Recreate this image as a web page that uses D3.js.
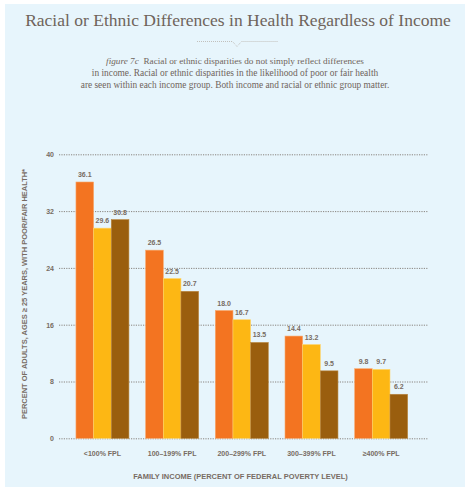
<!DOCTYPE html>
<html><head><meta charset="utf-8">
<script src="https://cdn.jsdelivr.net/npm/d3@7"></script>
<style>html,body{margin:0;padding:0;background:#fff;}svg{display:block;}</style>
</head><body>
<script>
const categories = ["<100% FPL", "100–199% FPL", "200–299% FPL", "300–399% FPL", "≥400% FPL"];
const seriesNames = ["Group A", "Group B", "Group C"];
const seriesA = [36.1, 26.5, 18.0, 14.4, 9.8];
const seriesB = [29.6, 22.5, 16.7, 13.2, 9.7];
const seriesC = [30.8, 20.7, 13.5, 9.5, 6.2];
const yTicks = [0, 8, 16, 24, 32, 40];
const colors = ["#f37421", "#fdb714", "#9a5e0e"];
const strokes = ["#f9a86c", "#fed56c", "#b98640"];
const title = "Racial or Ethnic Differences in Health Regardless of Income";
const captionLines = [
  ["figure 7c", "\u00a0 Racial or ethnic disparities do not simply reflect differences"],
  ["", "in income. Racial or ethnic disparities in the likelihood of poor or fair health"],
  ["", "are seen within each income group. Both income and racial or ethnic group matter."]
];
const yTitle = "PERCENT OF ADULTS, AGES ≥ 25 YEARS, WITH POOR/FAIR HEALTH*";
const xTitle = "FAMILY INCOME (PERCENT OF FEDERAL POVERTY LEVEL)";

const W = 465, H = 487;
const txt = "#776c63";
const SERIF = "'Liberation Serif', 'DejaVu Serif', serif";
const SANS = "'Liberation Sans', Arial, sans-serif";
const svg = d3.select("body").append("svg").attr("width", W).attr("height", H);
svg.append("rect").attr("x", 5).attr("y", 4).attr("width", W - 5).attr("height", H - 4).attr("fill", "#e7f5fc");

function fit(sel, target, base) {
  sel.attr("font-size", base);
  const len = sel.node().getComputedTextLength();
  sel.attr("font-size", (base * target / len).toFixed(2));
}

// Title
const tt = svg.append("text").attr("x", 238).attr("y", 26).attr("text-anchor", "middle")
  .style("font-family", SERIF).attr("fill", "#6f645b").text(title);
fit(tt, 426, 18);

// Ornament
const orn = d3.path();
orn.moveTo(197, 41.5); orn.lineTo(232.5, 41.5); orn.lineTo(237, 46.5); orn.lineTo(241.5, 41.5); orn.lineTo(278, 41.5);
svg.append("path").attr("d", orn.toString()).attr("fill", "none").attr("stroke", "#b9b2ab")
  .attr("stroke-width", 0.8).attr("stroke-dasharray", "1,1");

// Caption
const capW = [258, 287, 309];
captionLines.forEach((ln, i) => {
  const t = svg.append("text").attr("x", 235).attr("y", 64 + i * 12).attr("text-anchor", "middle")
    .style("font-family", SERIF).attr("fill", "#6f645b");
  if (ln[0]) t.append("tspan").attr("font-style", "italic").text(ln[0]);
  t.append("tspan").text(ln[1]);
  fit(t, capW[i], 9);
});

// Scales
const y = d3.scaleLinear().domain([0, 40]).range([438.3, 154.3]);
const x = d3.scaleBand().domain(categories).range([67.6, 416]).paddingInner(0.24).paddingOuter(0.12);
const xs = d3.scaleBand().domain(seriesNames).range([0, x.bandwidth()]);

// Grid
const grid = svg.append("g");
grid.selectAll("line").data(yTicks).join("line")
  .attr("x1", 59).attr("x2", 428).attr("y1", d => y(d) + 0.5).attr("y2", d => y(d) + 0.5)
  .attr("stroke", "#7f7872").attr("stroke-width", 0.9).attr("stroke-dasharray", "1.2,1.2");

// Y axis
const yAxis = d3.axisLeft(y).tickValues(yTicks).tickSize(0).tickPadding(0);
const yg = svg.append("g").attr("transform", "translate(54,0)").call(yAxis);
yg.select(".domain").remove();
yg.selectAll("text").style("font-family", SANS).attr("font-weight", "bold")
  .attr("font-size", 7).attr("fill", txt).attr("dy", "0.35em");

// Bars
const data = categories.map((c, i) => ({ c, vals: [seriesA[i], seriesB[i], seriesC[i]] }));
const groups = svg.selectAll("g.grp").data(data).join("g").attr("class", "grp")
  .attr("transform", d => `translate(${x(d.c)},0)`);
groups.selectAll("rect").data(d => d.vals.map((v, j) => ({ v, s: seriesNames[j], j }))).join("rect")
  .attr("x", d => xs(d.s)).attr("width", xs.bandwidth())
  .attr("y", d => y(d.v)).attr("height", d => y(0) - y(d.v))
  .attr("fill", d => colors[d.j]).attr("stroke", d => strokes[d.j]).attr("stroke-width", 0.6);
groups.selectAll("text").data(d => d.vals.map((v, j) => ({ v, s: seriesNames[j], j }))).join("text")
  .attr("x", d => xs(d.s) + xs.bandwidth() / 2).attr("y", d => y(d.v) - 5)
  .attr("text-anchor", "middle").style("font-family", SANS)
  .attr("font-weight", "bold").attr("font-size", 7).attr("fill", txt)
  .text(d => d3.format(".1f")(d.v));

// X axis labels
const xAxis = d3.axisBottom(x).tickSize(0).tickPadding(0);
const xg = svg.append("g").attr("transform", "translate(0,456)").call(xAxis);
xg.select(".domain").remove();
xg.selectAll("text").style("font-family", SANS).attr("font-weight", "bold")
  .attr("font-size", 7).attr("fill", txt).attr("dy", 0);

// Axis titles
const xt = svg.append("text").attr("x", 240.5).attr("y", 478.5).attr("text-anchor", "middle")
  .style("font-family", SANS).attr("font-weight", "bold").attr("fill", txt).text(xTitle);
fit(xt, 215, 7);
const yt = svg.append("text").attr("transform", "translate(26.5,294) rotate(-90)").attr("text-anchor", "middle")
  .style("font-family", SANS).attr("font-weight", "bold").attr("fill", txt).text(yTitle);
fit(yt, 250, 7);
</script>
</body></html>
